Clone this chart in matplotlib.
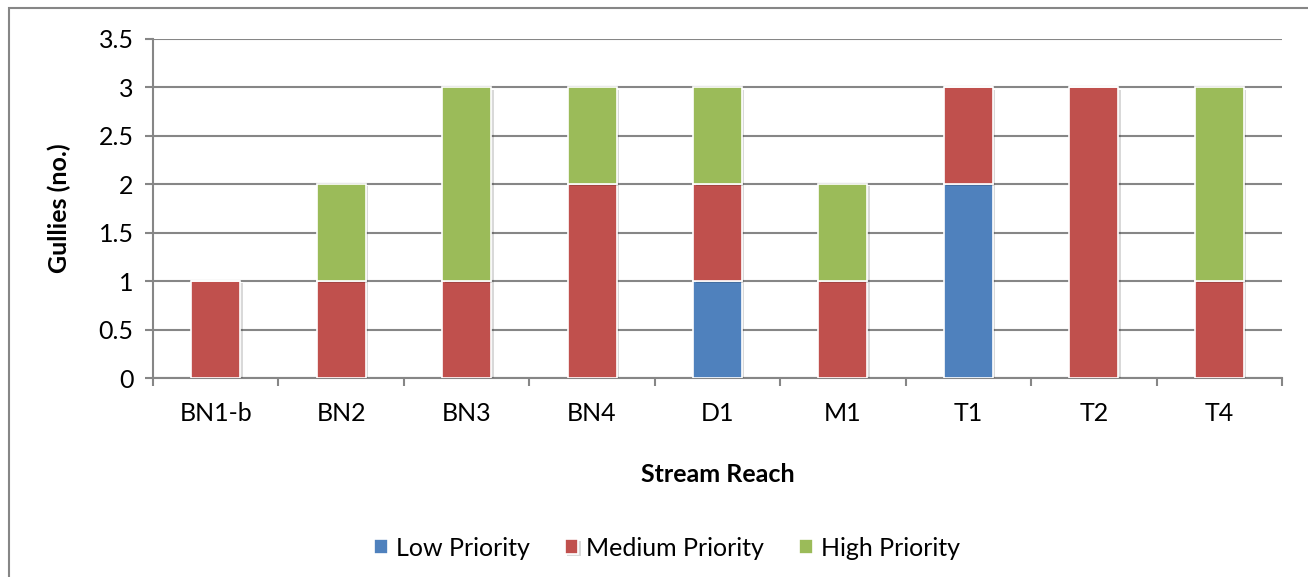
import matplotlib
matplotlib.use("Agg")
import matplotlib.pyplot as plt
import matplotlib.patheffects as pe
from matplotlib.patches import Rectangle
import numpy as np

reaches = ["BN1-b", "BN2", "BN3", "BN4", "D1", "M1", "T1", "T2", "T4"]
low_priority = [0, 0, 0, 0, 1, 0, 2, 0, 0]
medium_priority = [1, 1, 1, 2, 1, 1, 1, 3, 1]
high_priority = [0, 1, 2, 1, 1, 1, 0, 0, 2]

plt.rcParams["font.family"] = ["Lato", "DejaVu Sans"]

GRIS = "#868686"
couleurs = {"Low Priority": "#4F81BD", "Medium Priority": "#C0504D", "High Priority": "#9BBB59"}
TAILLE = 18

fig = plt.figure(figsize=(13.08, 5.77), dpi=100)
ax = fig.add_axes([153 / 1308, 1 - 378 / 577, (1282 - 153) / 1308, (378 - 39) / 577])

# cadre du graphique (coupé à droite et en bas comme dans l'original)
cadre = Rectangle((9 / 1308, -0.1), 1.2, (577 - 8) / 577 + 0.1, transform=fig.transFigure,
                  fill=False, edgecolor=GRIS, linewidth=1.5, zorder=0)
fig.add_artist(cadre)

x = np.arange(len(reaches))
ombre = [pe.SimplePatchShadow(offset=(1.8, -1.5), shadow_rgbFace="black", alpha=0.15), pe.Normal()]
bas = np.zeros(len(reaches))
for nom, valeurs in [("Low Priority", low_priority), ("Medium Priority", medium_priority),
                     ("High Priority", high_priority)]:
    v = np.array(valeurs, dtype=float)
    barres = ax.bar(x, v, bottom=bas, width=0.39, color=couleurs[nom], edgecolor="white",
                    linewidth=1.2, label=nom, zorder=3)
    for b, val in zip(barres, v):
        if val > 0:
            b.set_path_effects(ombre)
    bas += v

ax.set_ylim(0, 3.5)
ax.set_yticks(np.arange(0, 3.51, 0.5))
ax.set_yticklabels(["0", "0.5", "1", "1.5", "2", "2.5", "3", "3.5"])
ax.set_xlim(-0.5, len(reaches) - 0.5)
ax.set_xticks(np.arange(-0.5, len(reaches), 1.0))
ax.set_xticklabels([])
ax.set_xticks(x, minor=True)
ax.set_xticklabels(reaches, minor=True)

ax.grid(axis="y", color=GRIS, linewidth=1.5, zorder=1)
ax.set_axisbelow(True)
for s in ["top", "right"]:
    ax.spines[s].set_visible(False)
for s in ["left", "bottom"]:
    ax.spines[s].set_color(GRIS)
    ax.spines[s].set_linewidth(1.5)
ax.tick_params(axis="y", which="major", length=6, width=1.5, color=GRIS, labelsize=TAILLE, pad=8)
ax.tick_params(axis="x", which="major", length=6, width=1.5, color=GRIS)
ax.tick_params(axis="x", which="minor", length=0, labelsize=TAILLE, pad=17)

ax.set_xlabel("Stream Reach", fontsize=TAILLE, fontweight="bold", labelpad=28)
ax.set_ylabel("Gullies (no.)", fontsize=TAILLE, fontweight="bold", labelpad=20)

fig.legend(loc="center", bbox_to_anchor=(667 / 1308, 1 - 548 / 577), ncol=3, frameon=False,
           fontsize=TAILLE, handlelength=0.55, handleheight=0.55, handletextpad=0.32,
           columnspacing=1.4)

fig.savefig("out.png", dpi=100)
